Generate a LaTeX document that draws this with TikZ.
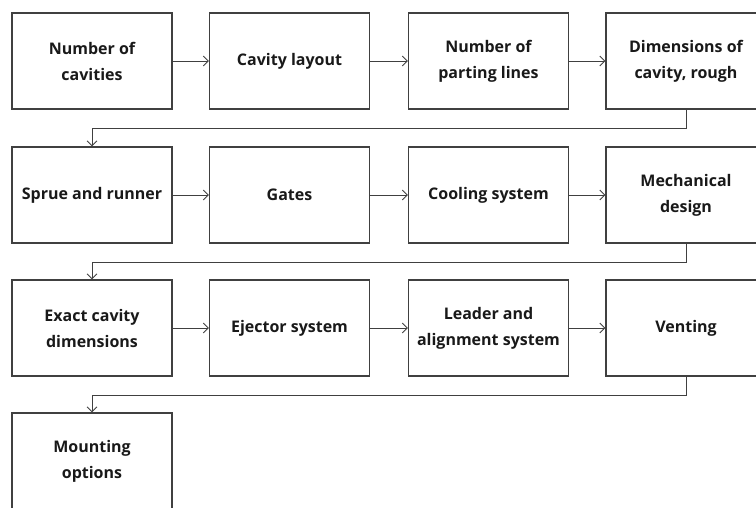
\documentclass[tikz,border=0pt]{standalone}
\usepackage{fontspec}
\setmainfont{Open Sans}
\usetikzlibrary{arrows.meta}

\begin{document}
\begin{tikzpicture}[x=1pt,y=-1pt]

\tikzset{box/.style = {shape=rectangle,draw=black!75,line width=1.1pt,minimum width=160pt,minimum height=96pt,align=center,font=\fontsize{16}{26}\selectfont\bfseries,text=black!90}}
\tikzset{edge/.style = {draw=black!75,line width=0.9pt,-{Straight Barb[length=5pt,width=10pt]}}}

\useasboundingbox (0,0) rectangle (756,507);

% boxes
\node[box] (1) at (92,61) {Number of\\cavities};
\node[box] (2) at (289.5,61) {Cavity layout};
\node[box] (3) at (488.5,61) {Number of\\parting lines};
\node[box] (4) at (686,61) {Dimensions of\\cavity, rough};
\node[box] (5) at (92,195) {Sprue and runner};
\node[box] (6) at (289.5,195) {Gates};
\node[box] (7) at (488.5,195) {Cooling system};
\node[box] (8) at (686,195) {Mechanical\\design};
\node[box] (9) at (92,328) {Exact cavity\\dimensions};
\node[box] (10) at (289.5,328) {Ejector system};
\node[box] (11) at (488.5,328) {Leader and\\alignment system};
\node[box] (12) at (686,328) {Venting};
\node[box] (13) at (92,461) {Mounting\\options};

% edges
\draw[edge] (1) -- (2);
\draw[edge] (2) -- (3);
\draw[edge] (3) -- (4);
\draw[edge] (4.south) -- ++(0,19) -| (5.north);
\draw[edge] (5) -- (6);
\draw[edge] (6) -- (7);
\draw[edge] (7) -- (8);
\draw[edge] (8.south) -- ++(0,19) -| (9.north);
\draw[edge] (9) -- (10);
\draw[edge] (10) -- (11);
\draw[edge] (11) -- (12);
\draw[edge] (12.south) -- ++(0,19) -| (13.north);

\end{tikzpicture}
\end{document}
